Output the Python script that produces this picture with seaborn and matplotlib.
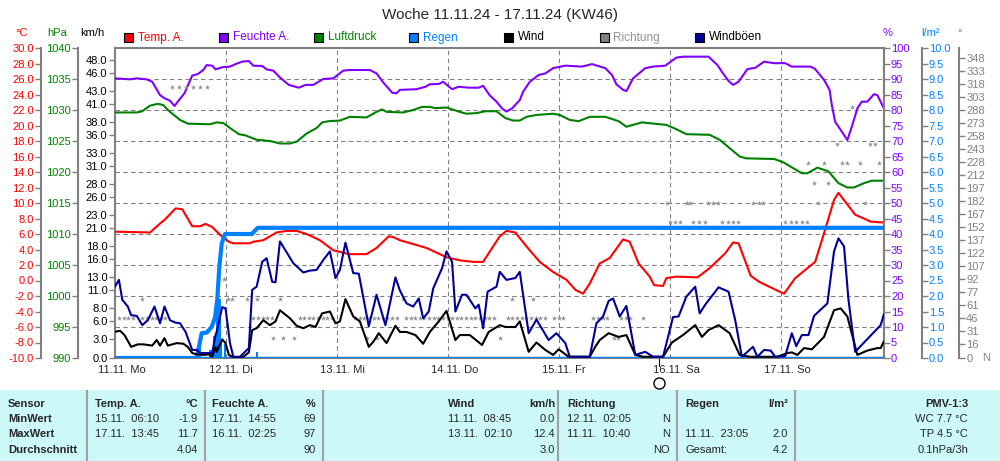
import numpy as np
import pandas as pd
import seaborn as sns
import matplotlib.pyplot as plt
from matplotlib.patches import Rectangle
from matplotlib.ticker import FormatStrFormatter

sns.set_style('white')
plt.rcParams['font.family'] = ['Liberation Sans', 'DejaVu Sans']
plt.rcParams['font.size'] = 8

# ---- data (time in days since 11.11. 00:00) ----
day_labels = ["11.11. Mo", "12.11. Di", "13.11. Mi", "14.11. Do", "15.11. Fr", "16.11. Sa", "17.11. So"]

temp_day = [0.00, 0.32, 0.43, 0.45, 0.55, 0.61, 0.70, 0.77, 0.82, 0.88, 0.95, 1.03, 1.07, 1.22, 1.25, 1.34,
            1.46, 1.55, 1.64, 1.73, 1.85, 1.97, 2.11, 2.27, 2.36, 2.47, 2.51, 2.57, 2.69, 2.81, 2.90, 2.99,
            3.11, 3.23, 3.32, 3.41, 3.47, 3.53, 3.61, 3.71, 3.83, 3.95, 4.07, 4.15, 4.22, 4.28, 4.37, 4.46,
            4.58, 4.64, 4.72, 4.82, 4.86, 4.94, 4.97, 5.06, 5.25, 5.36, 5.50, 5.57, 5.62, 5.73, 5.81, 5.94,
            6.03, 6.13, 6.31, 6.39, 6.48, 6.52, 6.67, 6.81, 6.90, 6.93]
temp_val = [6.3, 6.2, 7.6, 7.8, 9.3, 9.2, 7.0, 7.0, 7.3, 6.9, 5.9, 5.0, 4.8, 4.8, 5.0, 5.2,
            6.2, 6.4, 6.4, 6.0, 5.2, 3.9, 3.4, 3.4, 4.2, 5.7, 5.6, 5.2, 4.7, 4.2, 3.6, 3.0,
            2.6, 2.4, 2.4, 4.4, 5.7, 6.4, 6.2, 4.4, 2.4, 1.1, 0.1, -1.2, -1.7, -0.4, 2.2, 2.9,
            5.3, 5.0, 2.2, 0.5, -0.6, -0.7, 0.3, 0.5, 0.4, 1.6, 3.5, 4.9, 4.8, 0.6, -0.2, -1.1,
            -1.7, 0.3, 2.4, 6.1, 10.4, 11.3, 8.5, 7.6, 7.5, 7.5]

hum_day = [0.00, 0.14, 0.20, 0.29, 0.34, 0.41, 0.45, 0.50, 0.54, 0.57, 0.63, 0.70, 0.75, 0.80, 0.83, 0.88,
           0.91, 0.97, 1.04, 1.09, 1.15, 1.21, 1.25, 1.33, 1.37, 1.43, 1.49, 1.57, 1.61, 1.66, 1.72, 1.79,
           1.88, 1.97, 2.06, 2.12, 2.30, 2.36, 2.42, 2.50, 2.54, 2.57, 2.72, 2.80, 2.84, 2.92, 2.96, 3.04,
           3.10, 3.19, 3.28, 3.32, 3.38, 3.44, 3.49, 3.53, 3.58, 3.65, 3.68, 3.74, 3.82, 3.88, 3.95, 4.06,
           4.21, 4.30, 4.42, 4.48, 4.52, 4.58, 4.61, 4.67, 4.78, 4.85, 4.96, 5.06, 5.12, 5.35, 5.43, 5.48,
           5.53, 5.57, 5.62, 5.70, 5.77, 5.85, 5.94, 6.04, 6.10, 6.27, 6.31, 6.39, 6.44, 6.46, 6.49, 6.53,
           6.60, 6.64, 6.69, 6.73, 6.78, 6.84, 6.87, 6.93]
hum_val = [90.2, 89.9, 90.2, 89.9, 89.1, 84.8, 83.8, 83.0, 81.3, 82.7, 85.4, 91.1, 91.6, 92.9, 94.5, 94.3,
           93.1, 93.8, 94.0, 94.8, 95.6, 95.8, 94.3, 94.2, 93.1, 92.7, 90.5, 88.1, 87.7, 87.2, 88.1, 88.1,
           90.0, 90.2, 92.7, 92.9, 92.9, 91.8, 88.9, 85.6, 85.4, 86.5, 86.7, 87.5, 88.3, 88.4, 89.1, 86.7,
           87.5, 87.2, 87.2, 87.8, 84.7, 82.7, 80.5, 79.5, 80.5, 83.2, 85.9, 89.1, 91.3, 91.8, 93.5, 94.3,
           94.0, 94.8, 93.5, 91.3, 88.3, 86.5, 86.1, 90.2, 93.5, 94.0, 94.3, 96.9, 97.2, 97.2, 94.5, 91.8,
           89.4, 88.1, 89.1, 93.2, 93.6, 95.6, 95.1, 95.1, 94.0, 94.0, 93.2, 89.7, 86.5, 81.6, 76.2, 74.1,
           70.3, 74.6, 80.5, 82.7, 82.7, 85.1, 84.8, 80.5]

pres_day = [0.00, 0.20, 0.25, 0.32, 0.39, 0.44, 0.48, 0.59, 0.66, 0.86, 0.92, 0.98, 1.04, 1.12, 1.18, 1.28,
            1.40, 1.49, 1.58, 1.64, 1.73, 1.82, 1.87, 1.93, 2.03, 2.12, 2.27, 2.36, 2.41, 2.45, 2.60, 2.69,
            2.77, 2.84, 2.89, 2.99, 3.11, 3.17, 3.26, 3.34, 3.44, 3.52, 3.59, 3.65, 3.71, 3.80, 3.95, 4.01,
            4.10, 4.18, 4.28, 4.42, 4.54, 4.61, 4.75, 4.91, 4.97, 5.06, 5.15, 5.36, 5.45, 5.63, 5.69, 5.94,
            6.02, 6.19, 6.24, 6.33, 6.43, 6.52, 6.60, 6.66, 6.75, 6.82, 6.93]
pres_val = [1029.6, 1029.6, 1029.8, 1030.7, 1031.0, 1030.8, 1030.0, 1028.4, 1027.8, 1027.7, 1028.0, 1027.9,
            1027.1, 1026.1, 1025.9, 1025.2, 1025.0, 1024.6, 1024.6, 1024.9, 1026.2, 1027.1, 1028.0, 1028.2,
            1028.3, 1028.9, 1028.8, 1029.7, 1030.1, 1029.7, 1029.6, 1030.0, 1030.5, 1030.5, 1030.3, 1030.4,
            1029.7, 1029.4, 1029.5, 1029.8, 1029.8, 1028.7, 1028.3, 1028.3, 1028.9, 1029.2, 1029.4, 1029.2,
            1028.4, 1028.2, 1028.9, 1028.9, 1028.2, 1027.3, 1028.0, 1027.7, 1027.6, 1026.9, 1026.1, 1026.0,
            1025.2, 1022.5, 1022.2, 1022.1, 1021.6, 1019.8, 1019.8, 1020.7, 1020.1, 1018.2, 1017.5, 1017.5,
            1018.2, 1018.6, 1018.6]

rain_day = [0.00, 0.74, 0.785, 0.83, 0.875, 0.905, 0.926, 0.944, 0.966, 0.995, 1.236, 1.29, 6.93]
rain_sum = [0.0, 0.0, 0.8, 0.82, 1.0, 1.3, 1.9, 2.95, 3.7, 4.0, 4.0, 4.2, 4.2]
rain_bar_day = [0.77, 0.865, 0.90, 0.923, 0.946, 0.959, 0.995, 1.284]
rain_bar_val = [0.65, 0.25, 0.7, 2.0, 1.9, 0.5, 0.45, 0.2]

wind_day = [0.00, 0.05, 0.09, 0.15, 0.21, 0.26, 0.34, 0.38, 0.41, 0.45, 0.48, 0.56, 0.62, 0.66, 0.70, 0.74,
            0.80, 0.85, 0.88, 0.91, 0.92, 0.97, 1.00, 1.03, 1.07, 1.16, 1.21, 1.24, 1.28, 1.34, 1.40, 1.45,
            1.49, 1.58, 1.64, 1.70, 1.76, 1.81, 1.87, 1.94, 1.99, 2.03, 2.08, 2.15, 2.21, 2.29, 2.33, 2.38,
            2.45, 2.53, 2.57, 2.63, 2.71, 2.78, 2.84, 2.92, 2.99, 3.07, 3.11, 3.20, 3.31, 3.37, 3.47, 3.52,
            3.61, 3.65, 3.73, 3.80, 3.88, 3.95, 4.00, 4.09, 4.28, 4.33, 4.37, 4.45, 4.54, 4.61, 4.69, 4.76,
            4.94, 5.02, 5.12, 5.23, 5.29, 5.35, 5.44, 5.54, 5.63, 5.72, 5.97, 6.06, 6.10, 6.15, 6.21, 6.28,
            6.39, 6.48, 6.54, 6.60, 6.69, 6.78, 6.87, 6.90, 6.93]
wind_val = [4.2, 4.4, 3.7, 1.8, 2.2, 2.2, 2.0, 2.9, 2.0, 3.2, 2.0, 2.4, 2.3, 1.8, 0.8, 0.6,
            0.5, 0.6, 0.2, 1.8, 1.0, 3.0, 2.4, 0.5, 0.1, 0.2, 0.9, 4.5, 4.8, 6.1, 5.3, 5.9,
            7.7, 6.4, 5.2, 4.8, 5.3, 5.0, 7.2, 7.5, 5.6, 5.9, 9.5, 6.7, 5.9, 1.8, 2.6, 4.0,
            2.4, 5.2, 4.2, 4.2, 3.7, 2.3, 4.2, 5.9, 7.6, 2.9, 3.7, 3.7, 2.1, 4.2, 5.3, 5.0,
            5.0, 5.9, 1.0, 2.5, 1.3, 0.5, 1.4, 0.2, 0.2, 1.8, 2.9, 4.0, 3.4, 3.7, 0.5, 0.2,
            0.2, 2.5, 3.7, 5.3, 3.4, 4.5, 5.3, 4.0, 0.5, 0.2, 0.2, 0.8, 0.9, 0.5, 1.6, 1.4,
            3.4, 7.7, 8.0, 6.7, 0.5, 1.2, 1.6, 1.6, 2.7]

gust_day = [0.00, 0.04, 0.07, 0.12, 0.15, 0.20, 0.25, 0.30, 0.36, 0.41, 0.45, 0.50, 0.55, 0.59, 0.64, 0.70,
            0.74, 0.77, 0.88, 0.91, 0.92, 0.97, 1.00, 1.04, 1.07, 1.13, 1.21, 1.24, 1.28, 1.33, 1.37, 1.42,
            1.45, 1.49, 1.61, 1.70, 1.76, 1.82, 1.88, 1.94, 1.99, 2.03, 2.08, 2.15, 2.20, 2.29, 2.36, 2.44,
            2.53, 2.57, 2.63, 2.69, 2.74, 2.78, 2.83, 2.87, 2.95, 2.99, 3.04, 3.07, 3.13, 3.17, 3.25, 3.28,
            3.32, 3.36, 3.44, 3.47, 3.53, 3.61, 3.65, 3.73, 3.80, 3.91, 3.98, 4.06, 4.10, 4.28, 4.34, 4.40,
            4.45, 4.49, 4.55, 4.61, 4.69, 4.78, 4.85, 4.94, 5.03, 5.08, 5.15, 5.23, 5.27, 5.32, 5.44, 5.53,
            5.59, 5.65, 5.75, 5.79, 5.85, 5.91, 5.95, 6.04, 6.10, 6.14, 6.19, 6.25, 6.30, 6.42, 6.48, 6.52,
            6.57, 6.61, 6.67, 6.90, 6.93]
gust_val = [11.4, 12.6, 9.4, 8.3, 6.9, 6.8, 5.3, 6.1, 8.3, 5.6, 8.3, 6.1, 5.7, 5.6, 4.2, 1.3,
            1.3, 0.8, 0.8, 3.7, 4.2, 8.2, 8.0, 2.4, 0.2, 0.2, 1.6, 11.0, 11.5, 15.5, 16.1, 12.3,
            12.2, 18.8, 15.3, 13.8, 14.1, 14.2, 15.8, 17.2, 12.9, 14.2, 18.6, 13.7, 13.6, 5.1, 10.2, 5.3,
            13.0, 10.9, 8.8, 8.3, 9.6, 6.4, 7.5, 11.2, 14.5, 17.2, 15.5, 7.5, 10.2, 10.2, 8.0, 8.6,
            4.8, 10.7, 11.5, 13.9, 12.6, 12.9, 13.9, 4.0, 6.2, 2.9, 4.0, 2.4, 0.2, 0.2, 5.6, 6.7,
            9.2, 9.6, 6.7, 8.4, 0.5, 1.0, 0.2, 0.2, 6.6, 6.7, 9.9, 11.5, 7.2, 8.6, 11.4, 10.7,
            6.1, 0.2, 1.8, 0.2, 1.3, 1.2, 0.2, 0.3, 4.0, 1.9, 3.7, 3.7, 6.8, 8.8, 17.2, 19.3,
            18.0, 9.4, 1.0, 5.3, 7.1]

# wind direction dots (hours since 11.11. 00:00, degrees)
dir_hours = [1, 2, 3, 4, 5.9, 6, 7, 8, 9, 10, 11,
             12.5, 14, 15.5, 17, 18.5, 20, 23.7, 24.5, 25.4, 28.6,
             30, 30.8, 31, 32, 33, 34, 34.3, 35.8, 36.5, 38.7,
             40, 41, 42, 43, 44, 45, 46, 47,
             52, 53, 54, 54.5, 55, 56, 56.7, 57, 58, 59, 60, 61, 62.4,
             63, 64, 65, 66, 67, 68, 69, 70, 71, 72, 73, 74, 75, 76, 77, 78, 79, 80, 81, 82,
             83.4, 85, 86, 86, 87, 88, 89, 90, 90.5, 91, 92, 93, 95, 96, 97,
             103.5, 104.5, 105.5, 106.5, 107.9, 108.9, 109.5, 110.5, 111.5, 114.3,
             119.5, 120.1, 121.2, 122.3, 123.8, 124.4, 125, 126.3, 127.6,
             128.3, 129.4, 130.5, 131.3, 132.5, 133.6, 134.7, 138.1, 139.2, 140.2,
             145, 146.2, 147.4, 148.5, 149.7, 150, 151.1, 152.1, 153.3, 154.3,
             156.1, 157.2, 158.3, 159.4, 161.2, 162.3, 163.4, 164.4, 165.2]
dir_deg = [46, 46, 46, 46, 68, 46, 46, 46, 46, 46, 46,
           315, 315, 315, 315, 315, 315, 92, 68, 68, 68,
           46, 68, 46, 46, 46, 46, 23, 68, 23, 23,
           46, 46, 46, 46, 46, 46, 46, 46,
           46, 46, 46, 23, 46, 46, 23, 46, 46, 46, 46, 46, 68,
           46, 46, 46, 46, 46, 46, 46, 46, 46, 46, 46, 46, 46, 46, 46, 46, 46, 46, 46, 46,
           23, 46, 46, 68, 46, 46, 46, 46, 68, 46, 46, 46, 46, 46, 46,
           46, 46, 46, 46, 23, 23, 46, 46, 46, 46,
           180, 158, 158, 158, 180, 180, 158, 158, 158,
           180, 180, 180, 158, 158, 158, 158, 180, 180, 180,
           158, 158, 158, 158, 158, 226, 203, 180, 226, 203,
           248, 226, 226, 292, 226, 180, 248, 248, 226]

# axis ticks
kmh_ticks = [0, 3, 6, 8, 11, 13, 16, 18, 21, 23, 26, 28, 31, 33, 36, 38, 41, 43, 46, 48]
deg_ticks = [0, 16, 31, 46, 61, 77, 92, 107, 122, 137, 152, 167, 182, 197, 212, 228, 243, 258,
             273, 288, 303, 318, 333, 348]

# summary table
tbl_sensor = ["Sensor", "MinWert", "MaxWert", "Durchschnitt"]
tbl_temp = ["Temp. A.", "15.11.  06:10", "17.11.  13:45", ""]
tbl_temp_v = ["°C", "-1.9", "11.7", "4.04"]
tbl_hum = ["Feuchte A.", "17.11.  14:55", "16.11.  02:25", ""]
tbl_hum_v = ["%", "69", "97", "90"]
tbl_wind = ["Wind", "11.11.  08:45", "13.11.  02:10", ""]
tbl_wind_v = ["km/h", "0.0", "12.4", "3.0"]
tbl_dir = ["Richtung", "12.11.  02:05", "11.11.  10:40", ""]
tbl_dir_v = ["", "N", "N", "NO"]
tbl_rain = ["Regen", "", "11.11.  23:05", "Gesamt:"]
tbl_rain_v = ["l/m²", "", "2.0", "4.2"]
tbl_pmv = ["PMV-1:3", "WC 7.7 °C", "TP 4.5 °C", "0.1hPa/3h"]

# ---- colours ----
RED = '#ff0000'
PURPLE = '#8000ff'
GREEN = '#008000'
RAIN = '#0080ff'
NAVY = '#000099'
GRAY = '#808080'

W, H = 1000, 461
PT = 0.72  # points per pixel at dpi 100

fig = plt.figure(figsize=(10, 4.61), dpi=100)
x0, x1, y0, y1 = 114.5, 884, 48, 358
ax = fig.add_axes([x0 / W, 1 - y1 / H, (x1 - x0) / W, (y1 - y0) / H])


def extra_axis(side, offset_px, lim, ticks, fmt, color):
    tw = ax.twinx()
    for s in tw.spines.values():
        s.set_visible(False)
    if side is None:
        tw.set_yticks([])
        tw.set_ylim(*lim)
        return tw
    sp = tw.spines[side]
    sp.set_visible(True)
    sp.set_position(('outward', offset_px * PT))
    sp.set_color(GRAY)
    sp.set_linewidth(1.5)
    if side == 'left':
        tw.yaxis.tick_left()
    else:
        tw.yaxis.tick_right()
    tw.set_ylim(*lim)
    tw.set_yticks(ticks)
    tw.yaxis.set_major_formatter(FormatStrFormatter(fmt))
    tw.tick_params(axis='y', color=GRAY, labelcolor=color, length=4, width=1, pad=1, labelsize=8)
    return tw


ax_t = extra_axis('left', 73.8, (-10, 30), np.arange(-10, 31, 2), '%.1f', RED)
ax_p = extra_axis('left', 36.8, (990, 1040), np.arange(990, 1041, 5), '%d', GREEN)
ax_h = extra_axis('right', 0, (0, 100), np.arange(0, 101, 5), '%d', PURPLE)
ax_r = extra_axis('right', 37.7, (0, 10), np.arange(0, 10.01, 0.5), '%.1f', RAIN)
ax_d = extra_axis('right', 75.3, (0, 360), deg_ticks, '%d', GRAY)
ax_w = extra_axis(None, 0, (0, 50), [], '', 'k')

# main axis = km/h scale + grid
ax.set_facecolor('white')
ax.set_ylim(0, 50)
ax.set_yticks(kmh_ticks)
ax.yaxis.set_major_formatter(FormatStrFormatter('%.1f'))
ax.yaxis.tick_left()
ax.tick_params(axis='y', color=GRAY, labelcolor='black', length=4, width=1, pad=1, labelsize=8)
ax.set_xticks([])
for s in ax.spines.values():
    s.set_color(GRAY)
    s.set_linewidth(1.5)
for i in range(1, 10):
    ax.axhline(i * 5, color=GRAY, lw=0.8, ls=(0, (4, 3)), zorder=0)
for d in range(1, 7):
    ax.axvline(d, color=GRAY, lw=0.8, ls=(0, (4, 3)), zorder=0)

# series
sns.lineplot(x=temp_day, y=temp_val, ax=ax_t, color=RED, linewidth=1.5)
sns.lineplot(x=hum_day, y=hum_val, ax=ax_h, color=PURPLE, linewidth=1.5)
sns.lineplot(x=pres_day, y=pres_val, ax=ax_p, color=GREEN, linewidth=1.5)
ax_r.axhline(0.04, color=RAIN, lw=1)
ax_r.bar(rain_bar_day, rain_bar_val, width=0.022, color=RAIN, linewidth=0)
sns.lineplot(x=rain_day, y=rain_sum, ax=ax_r, color=RAIN, linewidth=3)
sns.scatterplot(x=np.array(dir_hours) / 24, y=dir_deg, ax=ax_d, marker='*', s=16,
                color='#909090', linewidth=0)
sns.lineplot(x=wind_day, y=wind_val, ax=ax_w, color='black', linewidth=1.5)
sns.lineplot(x=gust_day, y=gust_val, ax=ax_w, color=NAVY, linewidth=1.5)

for a in (ax_t, ax_p, ax_h, ax_r, ax_d, ax_w):
    a.set_xlabel('')
    a.set_ylabel('')
ax_t.set_ylim(-10, 30)
ax_p.set_ylim(990, 1040)
ax_h.set_ylim(0, 100)
ax_r.set_ylim(0, 10)
ax_d.set_ylim(0, 360)
ax_w.set_ylim(0, 50)
ax.set_xlim(0, 6.93)

# day labels below the axis
xt = ax.get_xaxis_transform()
for i, lab in enumerate(day_labels):
    ax.text(i - 0.15, -12 / 310, lab, transform=xt, ha='left', va='center', fontsize=8)

# full-moon marker
ax.plot([4.9, 4.9], [0, -8 / 310], transform=xt, color='black', lw=0.8, clip_on=False)
ax.plot(4.9, -25 / 310, marker='o', ms=8, mfc='white', mec='black', mew=1, transform=xt, clip_on=False)

# title and units
fig.text(0.5, 1 - 15 / H, "Woche 11.11.24 - 17.11.24 (KW46)", ha='center', va='center', fontsize=11)
units = [("°C", 22, RED), ("hPa", 57, GREEN), ("km/h", 92, 'black'),
         ("%", 888, PURPLE), ("l/m²", 930, RAIN), ("°", 960, GRAY)]
for txt, px, col in units:
    fig.text(px / W, 1 - 33 / H, txt, ha='center', va='center', fontsize=8, color=col)
fig.text(986 / W, 1 - 358 / H, "N", ha='center', va='center', fontsize=8, color=GRAY)

# legend boxes
legend = [("Temp. A.", RED, RED), ("Feuchte A.", PURPLE, PURPLE), ("Luftdruck", GREEN, GREEN),
          ("Regen", RAIN, RAIN), ("Wind", 'black', 'black'), ("Richtung", GRAY, '#909090'),
          ("Windböen", NAVY, 'black')]
for i, (lab, fc, tc) in enumerate(legend):
    lx = 124 + 95.1 * i
    fig.add_artist(Rectangle((lx / W, 1 - 42 / H), 9 / W, 9 / H, transform=fig.transFigure,
                             facecolor=fc, edgecolor='black', linewidth=0.8))
    fig.text((lx + 14) / W, 1 - 37.5 / H, lab, ha='left', va='center', fontsize=8.5, color=tc)

# summary table
tax = fig.add_axes([0, 0, 1, 71 / H])
tax.set_facecolor('#ccf8f8')
tax.set_xlim(0, W)
tax.set_ylim(71, 0)
tax.set_xticks([])
tax.set_yticks([])
for s in tax.spines.values():
    s.set_visible(False)
for sx in (87, 205, 323, 558, 677, 795):
    tax.axvline(sx, color='#a0a0a0', lw=1.5)

rows_y = [14, 29, 44, 60]


def col(texts, x, ha='left', bold_all=False):
    for r, t in enumerate(texts):
        w = 'bold' if (r == 0 or bold_all) else 'normal'
        tax.text(x, rows_y[r], t, ha=ha, va='center', fontsize=8, fontweight=w)


col(tbl_sensor, 8, bold_all=True)
col(tbl_temp, 95)
col(tbl_temp_v, 198, ha='right')
col(tbl_hum, 212)
col(tbl_hum_v, 316, ha='right')
col(tbl_wind, 448)
col(tbl_wind_v, 555, ha='right')
col(tbl_dir, 567)
col(tbl_dir_v, 670, ha='right')
col(tbl_rain, 685)
col(tbl_rain_v, 788, ha='right')
col(tbl_pmv, 968, ha='right')

fig.savefig('out.png', dpi=100)
